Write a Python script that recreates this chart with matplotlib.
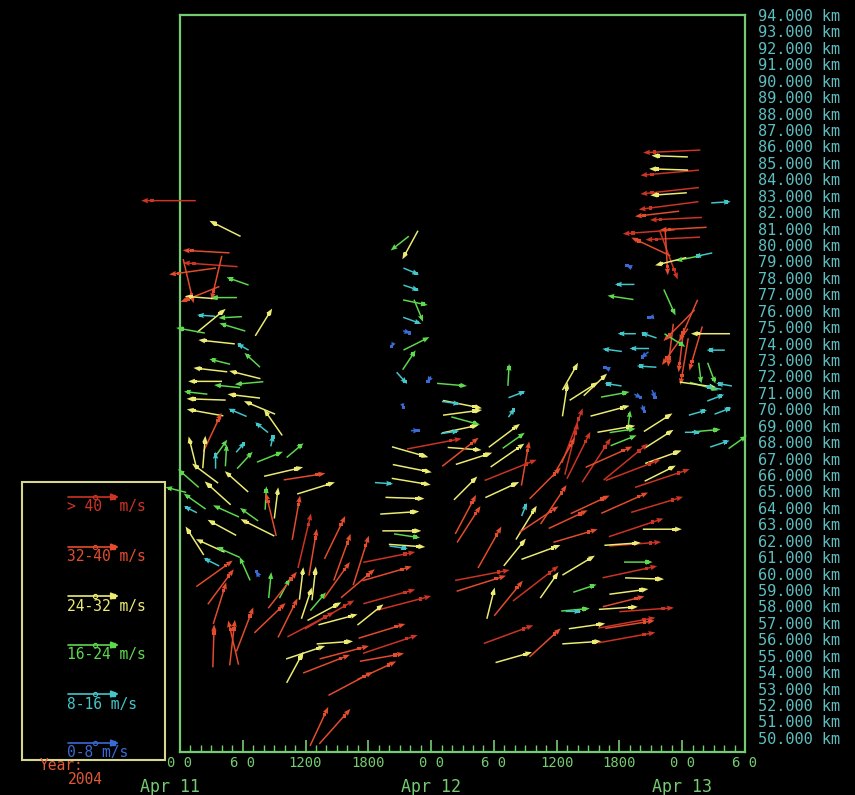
import numpy as np
import matplotlib
matplotlib.use('Agg')
import matplotlib.pyplot as plt
from matplotlib.patches import Rectangle
from matplotlib.ticker import FixedLocator, MultipleLocator
from matplotlib.transforms import blended_transform_factory

# wind vectors: (hours since Apr 11 00 UT, height km, zonal m/s, meridional m/s)
apr11_upper = [
    (-1.1, 82.7, -42, 0), (4.3, 81.0, -24, 12), (2.5, 79.6, -36, 2),
    (2.9, 78.8, -42, 3), (1.2, 78.4, -36, -5), (0.8, 77.8, 8, -34),
    (1.9, 77.0, -30, -12), (3.5, 78.0, -8, -34),
]

apr11_morning = [
    (2.0, 76.8, -25, 2), (4.2, 76.8, -20, 0), (5.5, 77.8, -17, 6),
    (2.5, 75.7, -14, 1), (4.8, 75.6, -18, -1), (3.0, 75.4, 22, 18),
    (8.0, 75.3, 13, 21), (3.5, 74.1, -28, 3), (6.0, 73.8, -9, 5),
    (6.9, 73.0, -12, 11), (2.9, 72.4, -26, 3), (6.2, 72.1, -24, 6),
    (2.4, 71.7, -26, 0), (6.6, 71.6, -22, -2), (4.5, 71.4, -20, 2),
    (6.1, 70.8, -25, 3), (2.5, 70.6, -30, 1), (7.6, 70.1, -24, 10),
    (2.4, 69.8, -28, 5), (5.5, 69.8, -14, 6), (7.8, 68.9, -10, 8),
    (8.9, 69.2, -14, 20), (3.1, 68.6, 14, 30), (1.2, 67.4, -6, 24),
    (2.3, 67.4, 2, 25), (3.9, 67.6, 10, 14), (4.4, 67.2, 1, 17),
    (3.4, 66.9, 0, 13), (5.8, 67.7, 7, 8), (6.2, 66.9, 12, 13),
    (8.6, 67.1, 20, 8), (9.9, 66.2, 30, 7), (11.0, 67.5, 13, 11),
    (8.8, 68.1, 2, 9), (0.8, 65.8, -16, 14), (2.4, 66.1, -20, 15),
    (3.6, 64.9, -20, 18), (1.4, 64.4, -17, 12), (1.0, 63.9, -10, 5),
    (4.4, 63.8, -20, 9), (7.4, 62.8, -26, 13), (4.0, 62.8, -22, 12),
    (9.2, 64.3, 3, 24), (8.2, 64.6, 1, 18), (-0.4, 65.1, -16, 4),
    (2.9, 61.7, -22, 10), (4.6, 61.3, -18, 8), (3.0, 60.7, -12, 6),
    (1.4, 62.0, -14, 22), (6.2, 60.3, -8, 18), (1.0, 74.8, -22, 4),
    (5.0, 75.0, -20, 6), (3.8, 72.9, -16, 4), (1.5, 71.0, -18, 2),
    (5.4, 65.6, -18, 16), (6.6, 63.6, -14, 10),
]

apr11_afternoon = [
    (11.9, 65.9, 32, 5), (13.0, 65.2, 29, 9), (8.7, 63.6, -8, 33),
    (11.1, 63.4, 6, 34), (11.9, 62.0, 10, 42), (12.7, 61.3, 6, 36),
    (14.8, 62.2, 16, 33), (15.5, 61.0, 13, 36), (17.3, 60.8, 12, 38),
    (3.3, 60.0, 28, 20), (3.9, 59.2, 20, 27), (3.8, 58.2, 10, 32),
    (3.2, 55.6, 1, 33), (5.0, 55.8, 4, 35), (5.1, 55.8, -8, 34),
    (6.2, 56.6, 13, 34), (8.6, 57.3, 24, 23), (8.6, 59.3, 2, 20),
    (10.0, 59.1, 8, 15), (7.4, 60.0, -3, 5), (11.6, 59.4, 3, 25),
    (12.8, 59.4, 3, 26), (13.2, 58.3, 12, 14), (13.8, 57.7, 26, 14),
    (14.3, 57.5, 38, 22), (14.8, 55.8, 28, 2), (15.7, 55.2, 38, 10),
    (11.0, 54.3, 13, 24), (16.3, 53.3, 34, 18), (13.3, 50.7, 14, 30),
    (14.8, 50.7, 24, 27), (10.3, 57.3, 15, 30), (9.8, 59.0, 22, 28),
    (15.0, 59.6, 20, 28), (17.0, 59.4, 26, 22), (12.1, 58.2, 8, 24),
    (12.5, 56.9, 36, 19), (15.1, 57.2, 30, 8), (14.0, 54.5, 36, 14),
    (12.0, 55.2, 30, 10),
]

apr12_night = [
    (21.0, 80.1, -14, -11), (22.0, 80.0, -12, -22), (22.1, 78.4, 12, -5),
    (22.1, 77.4, 12, -4), (22.5, 76.5, 19, -4), (22.8, 76.0, 7, -17),
    (22.2, 75.4, 14, -5), (21.7, 74.7, 6, -2), (22.6, 74.0, 20, 10),
    (21.9, 73.0, 10, 15), (20.3, 73.9, -2, -4), (21.2, 71.9, 8, -9),
    (23.8, 71.8, -3, -5), (21.3, 70.2, 1, -4), (26.0, 71.5, 23, -2),
    (27.0, 70.3, 30, -6), (25.9, 70.4, 14, -2), (27.0, 69.8, 30, 4),
    (27.3, 69.3, 22, -6), (26.8, 68.8, 28, 6), (25.8, 68.6, 14, 2),
    (22.5, 68.7, 7, 0), (22.0, 67.4, 28, -8), (24.3, 67.9, 42, 8),
    (27.2, 67.6, 26, -2), (26.8, 67.4, 28, 22), (28.1, 67.0, 28, 9),
    (22.2, 66.4, 30, -6), (19.5, 65.5, 14, -1), (22.1, 65.6, 30, -5),
    (21.5, 64.6, 30, -1), (27.3, 65.2, 18, 18), (21.0, 63.7, 30, 2),
    (21.2, 62.6, 30, 0), (21.7, 62.3, 20, -3), (21.7, 61.7, 28, -2),
    (20.9, 61.6, 14, -2), (20.0, 61.0, 40, 8), (19.8, 60.0, 38, 11),
    (20.0, 58.6, 40, 11), (21.4, 58.2, 42, 11), (18.2, 57.5, 20, 16),
    (19.3, 56.5, 36, 11), (20.1, 55.7, 42, 14), (19.3, 54.9, 34, 6),
    (18.8, 54.1, 30, 14), (27.6, 63.0, 18, 28), (27.3, 63.6, 16, 30),
    (28.9, 59.9, 42, 8), (28.8, 59.4, 38, 12), (29.7, 58.2, 6, 24),
    (29.6, 61.6, 18, 32),
]

apr12_day = [
    (31.4, 72.1, 1, 17), (32.2, 70.9, 13, 5), (31.7, 69.8, 5, 7),
    (31.0, 68.4, 24, 18), (31.3, 67.2, 26, 18), (31.9, 68.1, 17, 12),
    (33.0, 66.7, 6, 34), (31.6, 66.3, 40, 16), (30.8, 65.1, 26, 12),
    (34.9, 65.5, 24, 24), (31.4, 58.5, 22, 27), (32.0, 61.3, 17, 21),
    (33.1, 63.1, 16, 26), (32.9, 63.9, 4, 10), (31.4, 56.3, 38, 14),
    (31.9, 54.9, 28, 8), (34.9, 55.8, 24, 22), (34.0, 59.4, 35, 27),
    (35.3, 59.3, 14, 20), (34.5, 61.3, 30, 11), (34.3, 63.3, 30, 20),
    (35.7, 64.2, 20, 30),
]

apr12_evening = [
    (36.8, 70.6, 4, 26), (38.6, 71.1, 22, 14), (41.6, 70.9, 22, 4),
    (41.4, 71.5, -13, 2), (43.8, 70.8, 6, -3), (45.3, 70.9, 3, -7),
    (44.3, 70.0, 2, -6), (41.1, 69.9, 30, 8), (41.7, 68.8, 29, 5),
    (42.3, 68.7, 20, 3), (42.9, 69.3, 2, 16), (45.7, 69.2, 22, 14),
    (45.8, 68.2, 22, 14), (42.4, 68.1, 20, 8), (46.2, 67.1, 28, 10),
    (45.9, 66.1, 24, 12), (37.3, 72.0, 12, 21), (39.7, 71.5, 18, 17),
    (37.5, 68.4, 16, 42), (37.4, 67.6, 10, 40), (38.1, 67.2, 18, 36),
    (36.7, 67.1, 17, 30), (39.8, 66.9, 22, 34), (41.0, 67.1, 36, 16),
    (42.6, 66.8, 34, 28), (43.3, 66.3, 42, 16), (46.1, 65.8, 42, 14),
    (42.5, 64.3, 36, 16), (39.2, 64.2, 30, 14), (45.6, 64.2, 40, 12),
    (37.1, 63.3, 30, 14), (43.6, 62.8, 42, 14), (46.1, 62.7, 30, 0),
    (37.8, 62.3, 34, 10), (43.5, 61.8, 40, 3), (42.3, 61.8, 28, 2),
    (38.1, 60.5, 25, 15), (43.8, 60.7, 22, 0), (43.0, 60.1, 42, 9),
    (44.4, 59.7, 30, -1), (38.7, 59.1, 18, 6), (42.9, 58.9, 30, 4),
    (42.4, 58.3, 32, 8), (37.8, 57.8, 22, 2), (37.6, 57.7, 12, 0),
    (41.9, 57.9, 30, 2), (44.6, 57.8, 42, 3), (38.9, 56.8, 28, 4),
    (42.7, 57.0, 44, 8), (43.0, 56.9, 38, 6), (38.4, 55.8, 30, 2),
    (42.7, 56.1, 44, 8),
]

apr13_upper = [
    (47.0, 85.7, -44, -2), (46.8, 85.4, -28, 1), (46.8, 84.4, -45, -4),
    (46.7, 84.6, -30, 1), (46.8, 83.3, -45, -5), (46.7, 83.1, -28, -2),
    (46.7, 82.4, -46, -6), (45.6, 81.9, -34, -4), (51.7, 82.6, 15, 1),
    (47.4, 81.6, -40, -2), (44.8, 80.8, -40, -3), (48.1, 81.0, -36, -2),
    (47.1, 80.4, -42, -2), (46.7, 79.4, 14, -38), (46.5, 79.5, 2, -34),
    (45.0, 79.9, -30, 14), (50.0, 79.4, -14, -3), (48.6, 79.2, -20, -4),
    (46.9, 79.0, -24, -6), (42.9, 78.7, -5, 2), (42.5, 77.6, -15, 0),
    (42.1, 76.8, -20, 3), (46.8, 76.5, 9, -20), (45.0, 75.6, -5, -1),
    (47.7, 75.1, -24, -24), (48.6, 75.4, -14, -32), (47.9, 73.6, -4, -34),
    (47.3, 73.8, -20, -28), (49.3, 73.7, -10, -34), (46.9, 73.9, -4, -33),
    (48.2, 72.9, -6, -36), (50.7, 74.6, -30, 0), (51.2, 73.6, -14, 0),
    (49.7, 72.2, 2, -16), (50.8, 72.2, 6, -16), (50.1, 71.4, 22, -6),
    (49.5, 71.5, 28, -4), (52.0, 71.5, -12, 2), (47.3, 74.2, 16, -10),
    (42.7, 74.6, -14, 0), (44.8, 74.5, -12, 4), (41.3, 73.6, -15, 2),
    (43.9, 73.7, -15, 0), (44.4, 73.3, -6, -5), (44.6, 72.6, -15, 1),
    (40.8, 72.5, -5, 2), (50.3, 68.7, 22, 2), (49.0, 68.6, 12, 0),
    (49.5, 69.8, 14, 4), (51.9, 69.9, 13, 5), (51.2, 70.7, 13, 5),
    (51.0, 71.3, -12, 2), (51.6, 67.9, 15, 5), (53.3, 68.0, 14, 10),
]

# speed classes, slowest first
speed_edges = [8, 16, 24, 32, 40]
class_colors = ['#3a6ad4', '#42c6ca', '#5ed84e', '#ecec74', '#e44c2e', '#cc3424']
class_labels = ['0-8 m/s', '8-16 m/s', '16-24 m/s', '24-32 m/s', '32-40 m/s', '> 40  m/s']

tick_hours = [0, 6, 12, 18, 24, 30, 36, 42, 48, 54]
tick_labels = ['0 0', '6 0', '1200', '1800', '0 0', '6 0', '1200', '1800', '0 0', '6 0']
day_hours = [-1, 24, 48]
day_labels = ['Apr 11', 'Apr 12', 'Apr 13']
heights = list(range(50, 95))

GREEN = '#74cc70'
TEAL = '#5cbfc0'
MONO = 'DejaVu Sans Mono'
px_per_ms = 1.3

wind = np.array(apr11_upper + apr11_morning + apr11_afternoon + apr12_night
                + apr12_day + apr12_evening + apr13_upper, dtype=float)
t_hr, z_km, u, v = wind.T
speed = np.hypot(u, v)
cls = np.digitize(speed, speed_edges)
colors = [class_colors[i] for i in cls]

fig = plt.figure(figsize=(8.55, 7.95), dpi=100, facecolor='black')
ax = fig.add_axes([180 / 855, 1 - 752 / 795, 565 / 855, 737 / 795])
ax.set_facecolor('black')
ax.set_xlim(0, 54)
ax.set_ylim(49.14, 94)

q = ax.quiver(t_hr, z_km, u, v, color=colors, angles='uv', scale_units='dots',
              scale=1 / px_per_ms, units='dots', width=1.5, headwidth=3.6,
              headlength=4.6, headaxislength=4.2, pivot='middle', zorder=3)
q.set_clip_on(False)

# small square marker towards the head of every vector
pts = ax.transData.transform(np.column_stack([t_hr, z_km]))
off = 0.3 * px_per_ms * np.column_stack([u, v])
mk = ax.transData.inverted().transform(pts + off)
ax.scatter(mk[:, 0], mk[:, 1], s=6, marker='s', c=colors, linewidths=0,
           zorder=4, clip_on=False)

for side in ax.spines.values():
    side.set_color(GREEN)
    side.set_linewidth(1.6)

ax.xaxis.set_major_locator(FixedLocator(tick_hours))
ax.xaxis.set_minor_locator(MultipleLocator(1))
ax.set_xticklabels(tick_labels, family=MONO, fontsize=10, color=GREEN)
ax.tick_params(axis='x', which='major', direction='in', length=9, width=1.2,
               color=GREEN, pad=3)
ax.tick_params(axis='x', which='minor', direction='in', length=5, width=1.0,
               color=GREEN)

ax.yaxis.tick_right()
ax.yaxis.set_major_locator(FixedLocator(heights))
ax.set_yticklabels([f'{h:.3f} km' for h in heights], family=MONO,
                   fontsize=11, color=TEAL)
ax.tick_params(axis='y', length=0, pad=9)

trans = blended_transform_factory(ax.transData, ax.transAxes)
for h, lab in zip(day_hours, day_labels):
    ax.text(h, -0.048, lab, transform=trans, ha='center', va='center',
            family=MONO, fontsize=12, color=GREEN)

# speed key drawn in figure pixels
ov = fig.add_axes([0, 0, 1, 1], zorder=5)
ov.set_xlim(0, 855)
ov.set_ylim(795, 0)
ov.axis('off')
ov.patch.set_alpha(0)
ov.add_patch(Rectangle((22, 482), 143, 278, fill=False, ec='#d6d68c', lw=1.5))

key_rows = [497, 547, 596, 645, 694, 743]
for y, c, lab in zip(key_rows, class_colors[::-1], class_labels[::-1]):
    ov.annotate('', xy=(119, y), xytext=(68, y),
                arrowprops=dict(arrowstyle='-|>,head_length=0.45,head_width=0.2',
                                color=c, lw=1.2, shrinkA=0, shrinkB=0))
    ov.plot(95, y, 'o', ms=3, mfc='none', mec=c, mew=0.8)
    ov.plot(113, y, 's', ms=3.5, color=c)
    ov.text(67, y + 10, lab, ha='left', va='center', family=MONO,
            fontsize=10.5, color=c)

ov.text(40, 766, 'Year:', ha='left', va='center', family=MONO, fontsize=10.5,
        color='#e05a38')
ov.text(68, 780, '2004', ha='left', va='center', family=MONO, fontsize=10.5,
        color='#e05a38')

fig.savefig('out.png', dpi=100, facecolor='black')
